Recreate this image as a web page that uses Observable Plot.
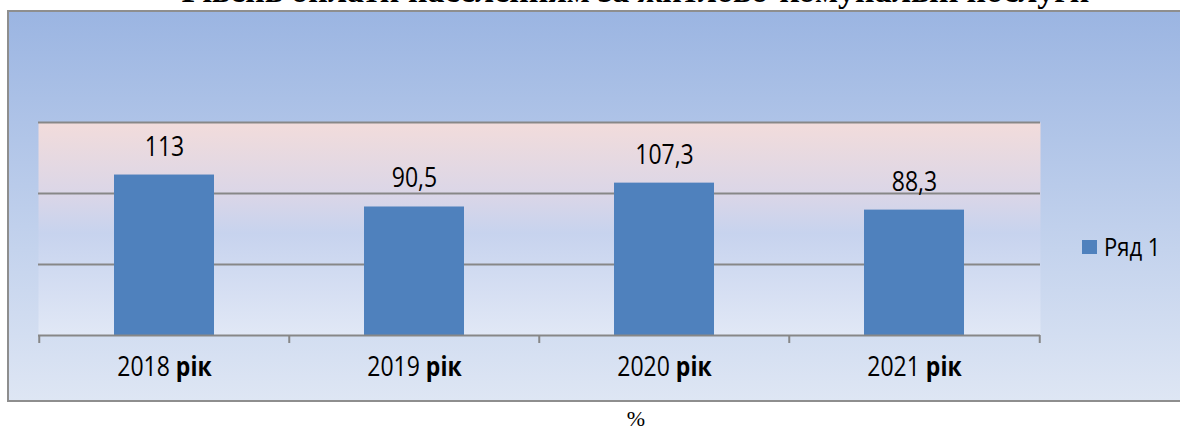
<!DOCTYPE html>
<html>
<head>
<meta charset="utf-8">
<script src="https://cdn.jsdelivr.net/npm/d3@7"></script>
<script src="https://cdn.jsdelivr.net/npm/@observablehq/plot@0.6"></script>
<style>
  html, body { margin: 0; padding: 0; }
  body { width: 1180px; height: 432px; overflow: hidden; background: #fff; position: relative; }
  #title { position: absolute; left: 0; width: 1271px; top: -26.5px; text-align: center;
           font: bold 34px "Liberation Serif", "Times New Roman", serif; line-height: 34px; white-space: nowrap; color: #000; }
  #box { position: absolute; left: 7px; top: 10px; width: 1200px; height: 392px; box-sizing: border-box;
         border: 2px solid #8e8e8e; background: linear-gradient(#9bb5e2, #dee6f4); }
  #chart { position: absolute; left: 0; top: 0; }
  #legend { position: absolute; left: 1082px; top: 231px; height: 30px; line-height: 30px;
            font: 22px "Open Sans", sans-serif; color: #000; white-space: nowrap; }
  #legend .sw { position: absolute; left: 0; top: 9px; width: 15px; height: 14px; background: #4f81bd; }
  #legend .lb { position: absolute; left: 22px; top: 0; display: inline-block; transform: scaleY(1.12); }
  #pct { position: absolute; left: 586px; width: 100px; top: 406px; text-align: center;
         font: 22px "Liberation Serif", "Times New Roman", serif; line-height: 26px; color: #000; }
</style>
</head>
<body>
<div id="title"></div>
<div id="box"></div>
<div id="chart"></div>
<div id="legend"><span class="sw"></span><span class="lb"></span></div>
<div id="pct"></div>
<script>
// ---- data ----
const titleText = "Рівень оплати населенням за житлово-комунальні послуги";
const years = ["2018", "2019", "2020", "2021"];
const yearWord = "рік";
const values = [113, 90.5, 107.3, 88.3];
const seriesName = "Ряд 1";
const unitText = "%";
const gridTicks = [50, 100, 150];

// ---- layout ----
const W = 1180, H = 432;
const ML = 38, MR = 140, MT = 122, MB = 97;
const PAD_IN = 0.6, PAD_OUT = 0.3;
const step = (W - ML - MR) / (years.length - PAD_IN + 2 * PAD_OUT);
const gridColor = "#878787";
const barColor = "#4f81bd";
const STRETCH = 1.15;

const categories = years.map(y => `${y} ${yearWord}`);
const data = categories.map((c, i) => ({cat: c, value: values[i]}));
const fmt = v => String(v).replace(".", ",");

document.getElementById("title").textContent = titleText;
document.querySelector("#legend .lb").textContent = seriesName;
document.getElementById("pct").textContent = unitText;

const defs = () => {
  const g = document.createElementNS("http://www.w3.org/2000/svg", "defs");
  g.innerHTML = `<linearGradient id="plotbg" x1="0" y1="0" x2="0" y2="1">
      <stop offset="0" stop-color="#f2dcdb"/>
      <stop offset="0.33" stop-color="#dbd6e7"/>
      <stop offset="0.52" stop-color="#c7d3ee"/>
      <stop offset="1" stop-color="#e1e8f6"/>
    </linearGradient>`;
  return g;
};

const chart = Plot.plot({
  width: W,
  height: H,
  marginLeft: ML,
  marginRight: MR,
  marginTop: MT,
  marginBottom: MB,
  style: {background: "transparent", fontFamily: "'Open Sans', sans-serif", color: "#000"},
  x: {domain: categories, paddingInner: PAD_IN, paddingOuter: PAD_OUT, axis: null},
  y: {domain: [0, 150], axis: null},
  marks: [
    defs,
    Plot.frame({fill: "url(#plotbg)", stroke: null}),
    Plot.ruleY(gridTicks, {stroke: gridColor, strokeWidth: 2}),
    Plot.barY(data, {x: "cat", y: "value", fill: barColor}),
    Plot.ruleY([0], {stroke: gridColor, strokeWidth: 2}),
    Plot.ruleX(categories, {x: d => d, dx: -step / 2, y1: 0, y2: 0, insetBottom: -8, stroke: gridColor, strokeWidth: 2}),
    Plot.ruleX(categories.slice(-1), {x: d => d, dx: step / 2, y1: 0, y2: 0, insetBottom: -8, stroke: gridColor, strokeWidth: 2}),
    Plot.text(data, {x: "cat", y: "value", text: d => fmt(d.value), dy: -28, lineAnchor: "middle",
                     fontSize: 23, fill: "#000", className: "stretch"}),
    Plot.axisX({tickSize: 0, tickPadding: 32, lineAnchor: "middle", fontSize: 23, fill: "#000", label: null, className: "stretch"})
  ]
});
document.getElementById("chart").appendChild(chart);

// mixed weight for category labels: "2018" normal, "рік" bold
d3.select(chart).selectAll("g[aria-label='x-axis tick label'] text").each(function () {
  const t = this.textContent;
  const k = t.indexOf(" ");
  if (k < 0) return;
  const sel = d3.select(this);
  sel.text(null);
  sel.append("tspan").text(t.slice(0, k + 1));
  sel.append("tspan").attr("font-weight", "bold").text(t.slice(k + 1));
});
// slight vertical stretch of the sans texts, as in the reference
d3.select(chart).selectAll(".stretch text").each(function () {
  const tr = this.getAttribute("transform") || "";
  this.setAttribute("transform", `${tr} scale(1,${STRETCH})`);
});
</script>
</body>
</html>
